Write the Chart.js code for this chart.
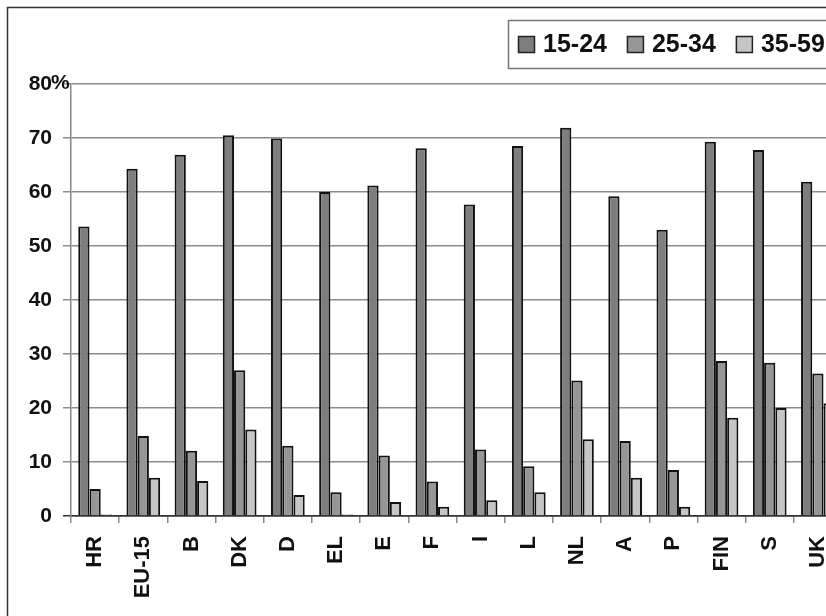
<!DOCTYPE html>
<html>
<head>
<meta charset="utf-8">
<script src="https://cdn.jsdelivr.net/npm/chart.js@4/dist/chart.umd.min.js"></script>
<style>
  html, body { margin: 0; padding: 0; background: #fff; overflow: hidden; }
  #wrap { position: absolute; left: 0; top: 0; width: 880px; height: 616px; }
</style>
</head>
<body>
<div id="wrap"><canvas id="chart" width="880" height="616"></canvas></div>
<script>
const categories = ["HR", "EU-15", "B", "DK", "D", "EL", "E", "F", "I", "L", "NL", "A", "P", "FIN", "S", "UK"];
const seriesNames = ["15-24", "25-34", "35-59"];
const age1524 = [53.6, 64.3, 66.9, 70.5, 69.9, 60, 61.2, 68.1, 57.7, 68.5, 71.9, 59.2, 53, 69.3, 67.8, 61.9];
const age2534 = [5, 14.8, 12.1, 27, 13, 4.4, 11.2, 6.4, 12.3, 9.2, 25.1, 13.9, 8.5, 28.7, 28.4, 26.4];
const age3559 = [0.3, 7.1, 6.5, 16, 3.9, 0.3, 2.6, 1.7, 2.9, 4.4, 14.2, 7.1, 1.7, 18.2, 20, 20.9];
const yTicks = [0, 10, 20, 30, 40, 50, 60, 70, 80];

const FONT = "'Liberation Sans', Arial, sans-serif";
const colors = ["#7e7e7e", "#969696", "#c6c6c6"];

// frame, legend box and the "%" after the top tick
const decor = {
  id: "decor",
  afterDraw(chart) {
    const ctx = chart.ctx;
    ctx.save();
    // outer frame
    ctx.strokeStyle = "#333";
    ctx.lineWidth = 1.5;
    ctx.strokeRect(7.5, 7.5, 1000, 1000);

    // legend box
    ctx.strokeStyle = "#777";
    ctx.strokeRect(508.5, 20.5, 500, 48);
    ctx.font = "bold 25px " + FONT;
    ctx.textBaseline = "middle";
    let x = 518;
    chart.data.datasets.forEach((ds) => {
      ctx.fillStyle = ds.backgroundColor;
      ctx.fillRect(x, 36, 17, 17);
      ctx.strokeStyle = "#222";
      ctx.lineWidth = 1.5;
      ctx.strokeRect(x + 0.5, 36.5, 16, 16);
      ctx.fillStyle = "#111";
      ctx.textAlign = "left";
      ctx.fillText(ds.label, x + 25, 45);
      x += 25 + ctx.measureText(ds.label).width + 20;
    });

    // % sign after 80
    const y = chart.scales.y;
    ctx.font = "bold 21px " + FONT;
    ctx.fillStyle = "#111";
    ctx.textAlign = "left";
    ctx.fillText("%", 51, y.getPixelForValue(80) - 1);
    ctx.restore();
  },
};

new Chart(document.getElementById("chart"), {
  type: "bar",
  data: {
    labels: categories,
    datasets: [
      { label: seriesNames[0], data: age1524, backgroundColor: colors[0] },
      { label: seriesNames[1], data: age2534, backgroundColor: colors[1] },
      { label: seriesNames[2], data: age3559, backgroundColor: colors[2] },
    ],
  },
  options: {
    responsive: false,
    animation: false,
    layout: { padding: { left: 0, right: 38, top: 84, bottom: 0 } },
    datasets: {
      bar: {
        categoryPercentage: 0.7,
        barPercentage: 1,
        borderColor: "#111",
        borderWidth: 2,
      },
    },
    plugins: {
      legend: { display: false },
      tooltip: { enabled: false },
    },
    scales: {
      x: {
        offset: true,
        grid: {
          offset: true,
          drawOnChartArea: false,
          drawTicks: true,
          tickLength: 7,
          color: "#888",
          lineWidth: 1.5,
        },
        border: { color: "#333", width: 1.5 },
        ticks: {
          autoSkip: false,
          minRotation: 90,
          maxRotation: 90,
          padding: 13,
          color: "#111",
          font: { family: FONT, size: 22, weight: "bold" },
        },
        afterFit(scale) {
          scale.height = 100;
        },
      },
      y: {
        min: 0,
        max: 80,
        afterBuildTicks(scale) {
          scale.ticks = yTicks.map((v) => ({ value: v }));
        },
        grid: {
          color: (c) => (c.tick && c.tick.value === 0 ? "#333" : "#8c8c8c"),
          lineWidth: 1.5,
          tickLength: 8,
        },
        border: { color: "#888", width: 1.5 },
        ticks: {
          padding: 11,
          color: "#111",
          font: { family: FONT, size: 21, weight: "bold" },
        },
        afterFit(scale) {
          scale.width = 71;
        },
      },
    },
  },
  plugins: [decor],
});
</script>
</body>
</html>
